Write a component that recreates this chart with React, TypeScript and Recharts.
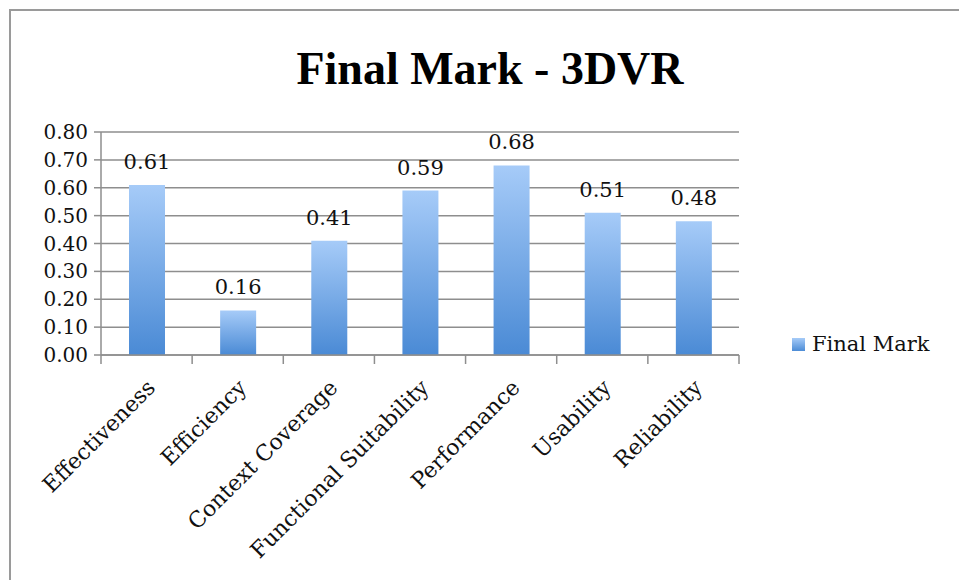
import React from 'react';
import { Bar, BarChart, CartesianGrid, LabelList, XAxis, YAxis } from 'recharts';

const categories = [
	'Effectiveness',
	'Efficiency',
	'Context Coverage',
	'Functional Suitability',
	'Performance',
	'Usability',
	'Reliability',
];
const finalMark = [0.61, 0.16, 0.41, 0.59, 0.68, 0.51, 0.48];
const yTicks = [0, 0.1, 0.2, 0.3, 0.4, 0.5, 0.6, 0.7, 0.8];

const data = categories.map((name, i) => ({ name, finalMark: finalMark[i] }));

const W = 959;
const H = 580;
const margin = { top: 132, right: 220, bottom: 25, left: 41 };
const yAxisWidth = 60;
const plotWidth = W - margin.left - margin.right - yAxisWidth;
const band = plotWidth / categories.length;

const serif = '"DejaVu Serif", serif';
const gridColor = '#8e8e8e';

// category label plus a tick mark on the left boundary of each band
const CategoryTick = (props: any) => {
	const { x, y, payload, index } = props;
	const lx = x + 10;
	const ly = y + 34;
	return (
		<g>
			<line x1={x - band / 2} y1={y} x2={x - band / 2} y2={y + 9} stroke={gridColor} strokeWidth={1.5} />
			{index === categories.length - 1 && (
				<line x1={x + band / 2} y1={y} x2={x + band / 2} y2={y + 9} stroke={gridColor} strokeWidth={1.5} />
			)}
			<text
				x={lx}
				y={ly}
				textAnchor='end'
				transform={`rotate(-45, ${lx}, ${ly})`}
				fontFamily={serif}
				fontSize={22}
				fill='#111'
			>
				{payload.value}
			</text>
		</g>
	);
};

const App: React.FC = () => {
	return (
		<div style={{ position: 'absolute', left: 0, top: 0, width: W, height: H, background: '#fff' }}>
			<div
				style={{
					position: 'absolute',
					left: 9,
					top: 9,
					right: 0,
					bottom: 0,
					borderTop: '2px solid #9a9a9a',
					borderLeft: '2px solid #9a9a9a',
				}}
			/>
			<div
				style={{
					position: 'absolute',
					left: 0,
					width: 980,
					top: 46,
					textAlign: 'center',
					fontFamily: '"Liberation Serif", serif',
					fontWeight: 'bold',
					fontSize: 46,
					lineHeight: 1,
					color: '#000',
				}}
			>
				Final Mark - 3DVR
			</div>
			<div style={{ position: 'absolute', left: 0, top: 0 }}>
				<BarChart width={W} height={H} data={data} margin={margin}>
					<defs>
						<linearGradient id='barFill' x1='0' y1='0' x2='0' y2='1'>
							<stop offset='0%' stopColor='#a6cbf8' />
							<stop offset='100%' stopColor='#4a8ad5' />
						</linearGradient>
					</defs>
					<CartesianGrid vertical={false} stroke={gridColor} strokeWidth={1.5} />
					<XAxis
						dataKey='name'
						interval={0}
						height={200}
						tickSize={0}
						tickMargin={0}
						tickLine={false}
						axisLine={{ stroke: gridColor, strokeWidth: 1.5 }}
						tick={<CategoryTick />}
					/>
					<YAxis
						width={yAxisWidth}
						domain={[0, 0.8]}
						ticks={yTicks}
						interval={0}
						tickSize={7}
						tickMargin={6}
						tickFormatter={(v: number) => v.toFixed(2)}
						tickLine={{ stroke: gridColor, strokeWidth: 1.5 }}
						axisLine={{ stroke: gridColor, strokeWidth: 1.5 }}
						tick={{ fontFamily: serif, fontSize: 20, fill: '#111' }}
					/>
					<Bar dataKey='finalMark' name='Final Mark' fill='url(#barFill)' barSize={36} isAnimationActive={false}>
						<LabelList
							dataKey='finalMark'
							position='top'
							offset={16}
							formatter={(v: any) => Number(v).toFixed(2)}
							style={{ fontFamily: serif, fontSize: 21, fill: '#111' }}
						/>
					</Bar>
				</BarChart>
			</div>
			<div
				style={{
					position: 'absolute',
					left: 792,
					top: 332,
					display: 'flex',
					alignItems: 'center',
					fontFamily: serif,
					fontSize: 21,
					color: '#111',
				}}
			>
				<span
					style={{
						display: 'inline-block',
						width: 13,
						height: 13,
						marginRight: 7,
						background: 'linear-gradient(#a6cbf8, #4c8cd6)',
					}}
				/>
				Final Mark
			</div>
		</div>
	);
};

export default App;
